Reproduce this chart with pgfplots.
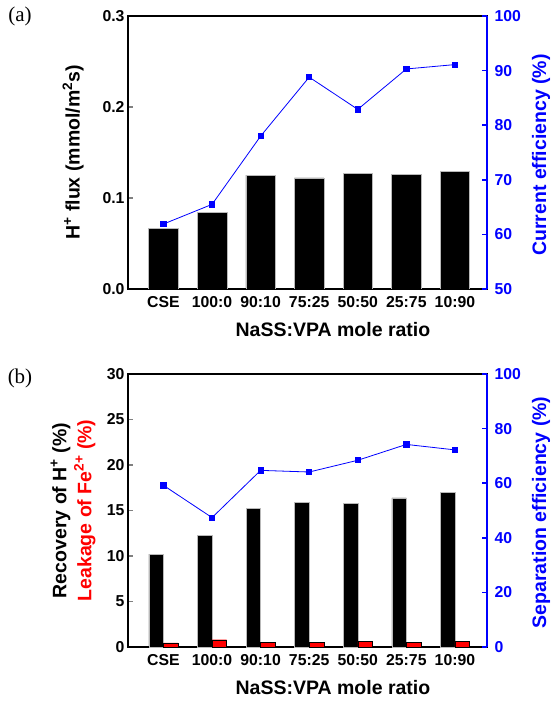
\documentclass[border=0pt]{standalone}
\usepackage{pgfplots}
\pgfplotsset{compat=1.18}
\usepackage{fontspec}
\setmainfont{Liberation Sans}
\newfontfamily\panelfont{Liberation Serif}

\definecolor{cblue}{RGB}{0,0,255}
\definecolor{cred}{RGB}{255,0,0}

\newcommand{\tickfont}{\fontsize{15.8}{18}\selectfont\bfseries}
\newcommand{\labfont}{\fontsize{19.5}{25}\selectfont\bfseries}

\pgfplotsset{
  base/.style={scale only axis, width=359pt, height=273pt,
    xmin=-0.73, xmax=6.66,
    /pgf/number format/assume math mode=true,
    tick label style={font=\tickfont},
    tick align=inside, major tick length=5pt,
  },
  leftax/.style={base, axis line style={-, line width=2.6pt}, ytick pos=left,
    xtick={0,...,6}, xticklabels={CSE,100:0,90:10,75:25,50:50,25:75,10:90},
    x tick style={draw=none}, y tick style={line width=1.6pt},
    every axis y label/.style={at={(axis description cs:-0.153,0.5)}, rotate=90,
      anchor=center, align=center, font=\labfont},
    every axis x label/.style={at={(axis description cs:0.571,-0.15)},
      anchor=center, font=\labfont},
    x tick label style={yshift=-4pt},
    xlabel={NaSS:VPA mole ratio},
  },
  rightax/.style={base, axis y line*=right, axis x line=none,
    axis line style={-, cblue, line width=2.6pt},
    y tick style={cblue, line width=1.6pt},
    yticklabel style={cblue, xshift=4pt},
  },
  blackbar/.style={ybar, fill=black, draw=gray!55, line width=0.5pt},
  effline/.style={cblue, line width=0.8pt, mark=square*, mark size=2.6pt,
    mark options={fill=cblue, draw=cblue}},
}

\begin{document}
\begin{tikzpicture}
\useasboundingbox (-128pt,-55pt) rectangle (426pt,647pt);

% panel (a)
\begin{axis}[leftax, at={(0pt,358pt)},
  ymin=0, ymax=0.3, ytick={0,0.1,0.2,0.3},
  yticklabel style={/pgf/number format/.cd, fixed, fixed zerofill, precision=1},
  ylabel={H\textsuperscript{+} flux (mmol/m\textsuperscript{2}s)}]
\addplot[blackbar, bar width=0.607] coordinates {
  (0,0.067)(1,0.084)(2,0.125)(3,0.122)(4,0.127)(5,0.126)(6,0.129)};
\end{axis}
\begin{axis}[rightax, at={(0pt,358pt)},
  ymin=50, ymax=100, ytick={50,60,70,80,90,100}]
\addplot[effline] coordinates {
  (0,61.9)(1,65.5)(2,78.0)(3,88.8)(4,82.9)(5,90.3)(6,91.1)};
\end{axis}

% panel (b)
\begin{axis}[leftax, at={(0pt,0pt)},
  ymin=0, ymax=30, ytick={0,5,10,15,20,25,30},
  ylabel={Recovery of H\textsuperscript{+} (\%)\\\textcolor{cred}{Leakage of Fe\textsuperscript{2+} (\%)}}]
\addplot[blackbar, bar width=0.3, bar shift=-0.15] coordinates {
  (0,10.2)(1,12.3)(2,15.2)(3,15.9)(4,15.8)(5,16.4)(6,17.0)};
\addplot[ybar, fill=cred, draw=black, line width=0.4pt, bar width=0.3, bar shift=0.15] coordinates {
  (0,0.45)(1,0.8)(2,0.5)(3,0.5)(4,0.6)(5,0.5)(6,0.6)};
\end{axis}
\begin{axis}[rightax, at={(0pt,0pt)},
  ymin=0, ymax=100, ytick={0,20,40,60,80,100}]
\addplot[effline] coordinates {
  (0,59.2)(1,47.4)(2,64.7)(3,64.1)(4,68.4)(5,74.2)(6,72.2)};
\end{axis}

% right-hand axis titles
\node[rotate=90, font=\labfont, text=cblue] at (413pt,492pt) {Current efficiency (\%)};
\node[rotate=90, font=\labfont, text=cblue] at (413pt,134.5pt) {Separation efficiency (\%)};

\node[font=\panelfont\fontsize{21}{24}\selectfont] at (-108pt,631pt) {(a)};
\node[font=\panelfont\fontsize{21}{24}\selectfont] at (-108pt,269pt) {(b)};
\end{tikzpicture}
\end{document}
